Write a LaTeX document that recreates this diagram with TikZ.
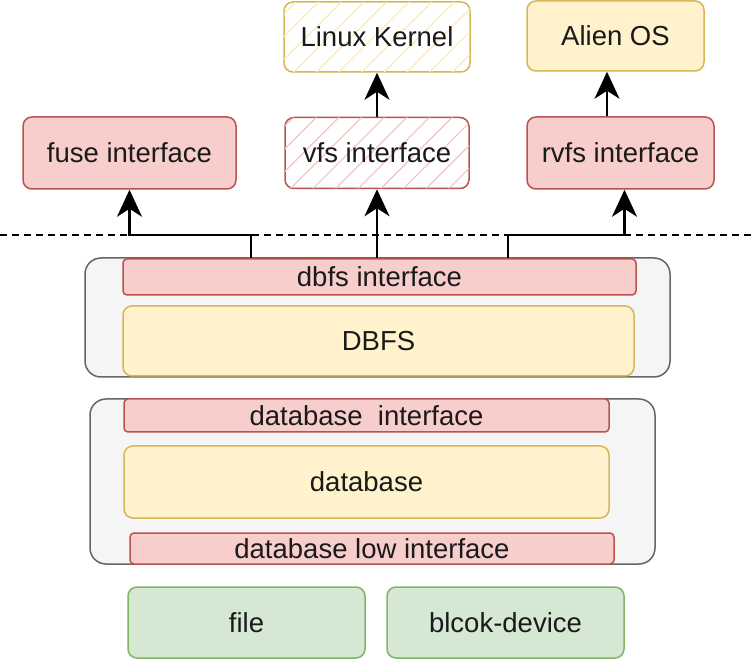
\documentclass[tikz,border=0pt]{standalone}
\usepackage{fontspec}
\setmainfont{Liberation Sans}
\usetikzlibrary{arrows.meta,patterns.meta}
\definecolor{rfill}{HTML}{F8CECC}
\definecolor{rline}{HTML}{B85450}
\definecolor{yfill}{HTML}{FFF2CC}
\definecolor{yline}{HTML}{D6B656}
\definecolor{gfill}{HTML}{D5E8D4}
\definecolor{gline}{HTML}{82B366}
\definecolor{cfill}{HTML}{F5F5F5}
\definecolor{cline}{HTML}{666666}
\definecolor{txt}{HTML}{1A1A1A}
\definecolor{rhatch}{HTML}{F6C4C2}
\definecolor{yhatch}{HTML}{FCEBB8}
\begin{document}
\begin{tikzpicture}[x=1pt,y=-1pt,
  base/.style={draw, line width=1.5pt, rounded corners=9pt, inner sep=0pt, text=txt,
     font=\fontsize{27.5}{33}\selectfont, anchor=center},
  redbox/.style={base, draw=rline, fill=rfill},
  ylwbox/.style={base, draw=yline, fill=yfill},
  grnbox/.style={base, draw=gline, fill=gfill},
  bar/.style={redbox, rounded corners=4pt},
  cont/.style={draw=cline, fill=cfill, line width=1.5pt, rounded corners=16pt, inner sep=0pt},
  rhatchbox/.style={base, draw=rline, fill=white,
     postaction={pattern={Lines[angle=45,distance=16pt,line width=1.2pt]}, pattern color=rhatch}},
  yhatchbox/.style={base, draw=yline, fill=white,
     postaction={pattern={Lines[angle=45,distance=16pt,line width=1.2pt]}, pattern color=yhatch}},
  arr/.style={line width=2.2pt, -{Stealth[length=27pt,width=25pt,inset=8pt]}},
  sz/.style 2 args={minimum width=#1pt, minimum height=#2pt}
]
\useasboundingbox (0,0) rectangle (753,660);
\fill[white] (0,0) rectangle (753,660);

% top row
\node[yhatchbox, sz={186}{70}] (linux) at (377,37) {Linux Kernel};
\node[ylwbox, sz={177}{70}] (alien) at (615.5,36) {Alien OS};

% interface row
\node[redbox, sz={213}{72}] (fuse) at (129.5,153) {fuse interface};
\node[rhatchbox, sz={184}{71}] (vfs) at (377,153) {vfs interface};
\node[redbox, sz={187}{72}] (rvfs) at (620.5,153) {rvfs interface};

% dashed separator
\coordinate (dl0) at (0,235);
\coordinate (dl1) at (753,235);
\draw[line width=1.8pt, dash pattern=on 7pt off 5pt] (dl0) -- (dl1);

% DBFS container
\node[cont, sz={585}{119}] (c1) at (377.5,317.5) {};
\node[bar, sz={513}{36}] (dbfsi) at (379.5,277) {dbfs interface};
\node[ylwbox, sz={511}{70}] (dbfs) at (378.5,341) {DBFS};

% database container
\node[cont, sz={565}{165}] (c2) at (372.5,481.5) {};
\node[bar, sz={485}{33}] (dbi) at (366.5,415.5) {database\ \ interface};
\node[ylwbox, sz={485}{72}] (db) at (366.5,482) {database};
\node[bar, sz={484}{31}] (dbl) at (372,548.5) {database low interface};

% bottom
\node[grnbox, sz={237}{71}] (file) at (246.5,622.5) {file};
\node[grnbox, sz={237}{71}] (blk) at (505.5,622.5) {blcok-device};

% connectors
\draw[arr] ([xshift=-128.5pt]dbfsi.north) |- (dl0 -| fuse.south) -- (fuse.south);
\draw[arr] (vfs.south |- dbfsi.north) -- (vfs.south);
\draw[arr] ([xshift=128.5pt]dbfsi.north) |- ([xshift=4pt]dl0 -| rvfs.south) -- ([xshift=4pt]rvfs.south);
\draw[arr] (vfs.north -| linux.south) -- (linux.south);
\draw[arr] ([xshift=-8.5pt]rvfs.north -| alien.south) -- ([xshift=-8.5pt]alien.south);
\end{tikzpicture}
\end{document}
